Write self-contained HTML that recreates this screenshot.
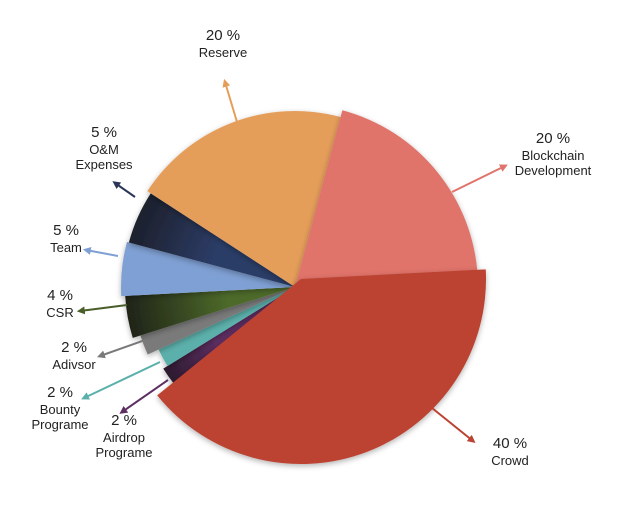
<!DOCTYPE html>
<html><head><meta charset="utf-8"><style>
html,body{margin:0;padding:0;background:#fff;width:641px;height:507px;overflow:hidden}
svg text{font-family:"Liberation Sans",sans-serif;fill:#222;text-anchor:middle}
</style></head><body>
<svg id="chart" width="641" height="507" viewBox="0 0 641 507" xmlns="http://www.w3.org/2000/svg">
<defs>
<filter id="sh" x="-20%" y="-20%" width="140%" height="140%"><feDropShadow dx="0" dy="2" stdDeviation="3" flood-color="#000" flood-opacity="0.3"/></filter>
<marker id="ah" viewBox="0 0 10 10" refX="6" refY="5" markerWidth="4" markerHeight="4" orient="auto-start-reverse"><path d="M0,0 L10,5 L0,10 z" fill="context-stroke"/></marker>
<radialGradient id="gOM" cx="295" cy="287" r="175" gradientUnits="userSpaceOnUse"><stop offset="0.5" stop-color="#2c3c66"/><stop offset="1" stop-color="#1c1f2a"/></radialGradient>
<radialGradient id="gCSR" cx="295" cy="287" r="172" gradientUnits="userSpaceOnUse"><stop offset="0.4" stop-color="#4d6a2a"/><stop offset="1" stop-color="#1e2218"/></radialGradient>
<radialGradient id="gAir" cx="295" cy="287" r="158" gradientUnits="userSpaceOnUse"><stop offset="0.6" stop-color="#5e2e63"/><stop offset="1" stop-color="#2a1a2c"/></radialGradient>
</defs>
<g id="slices"></g><g id="labels"></g>
</svg>
<script>
const labels = ["Crowd","Airdrop Programe","Bounty Programe","Adivsor","CSR","Team","O&M Expenses","Reserve","Blockchain Development"];
const values = [40,2,2,2,4,5,5,20,20];
const radii = [185,155,150,162,170,174,172,176,183];
const colors = ["#bc4231","#5e2e63","#5bb0ab","#7a7a7a","#4a5e2a","#7fa0d4","#2a3658","#e59e5a","#e0736b"];
const fills = ["#bc4231","url(#gAir)","#5bb0ab","#7a7a7a","url(#gCSR)","#7fa0d4","url(#gOM)","#e59e5a","#e0736b"];
const shifts = [[6,-8],[0,0],[0,0],[0,0],[0,0],[0,0],[0,0],[0,0],[0,0]];
const cx=295, cy=287, startAngle=-3;
const labelLines = [["40 %","Crowd"],["2 %","Airdrop","Programe"],["2 %","Bounty","Programe"],["2 %","Adivsor"],["4 %","CSR"],["5 %","Team"],["5 %","O&M","Expenses"],["20 %","Reserve"],["20 %","Blockchain","Development"]];
const labelPos = [[510,448],[124,425],[60,397],[74,352],[60,300],[66,235],[104,137],[223,40],[553,143]];
const arrowFrom = [[432,408],[168,380],[160,362],[145,340],[127,305],[118,256],[135,197],[237,122],[452,192]];
const arrowTo = [[473,441],[122,412],[84,398],[100,356],[80,311],[86,250],[115,183],[225,82],[505,166]];
const ns="http://www.w3.org/2000/svg";
const total=values.reduce((a,b)=>a+b,0);
const gS=document.getElementById('slices'), gL=document.getElementById('labels');
function pt(r,a){const t=a*Math.PI/180;return [cx+r*Math.cos(t),cy+r*Math.sin(t)];}
let a0=startAngle;
const paths=[];
values.forEach((v,i)=>{
  const sweep=v/total*360, a1=a0+sweep, r=radii[i];
  const p0=pt(r,a0), p1=pt(r,a1);
  const p=document.createElementNS(ns,'path');
  p.setAttribute('d',`M${cx},${cy} L${p0[0]},${p0[1]} A${r},${r} 0 ${sweep>180?1:0} 1 ${p1[0]},${p1[1]} Z`);
  p.setAttribute('fill',fills[i]);
  p.setAttribute('filter','url(#sh)');
  p.setAttribute('transform',`translate(${shifts[i][0]},${shifts[i][1]})`);
  
  
  paths.push(p);
  a0=a1;
  const ln=document.createElementNS(ns,'line');
  ln.setAttribute('x1',arrowFrom[i][0]);ln.setAttribute('y1',arrowFrom[i][1]);
  ln.setAttribute('x2',arrowTo[i][0]);ln.setAttribute('y2',arrowTo[i][1]);
  ln.setAttribute('stroke',colors[i]);ln.setAttribute('stroke-width','2');
  ln.setAttribute('marker-end','url(#ah)');
  
  
  gL.appendChild(ln);
  const t=document.createElementNS(ns,'text');
  
  
  labelLines[i].forEach((s,k)=>{
    const ts=document.createElementNS(ns,'tspan');
    ts.setAttribute('x',labelPos[i][0]);
    ts.setAttribute('y',labelPos[i][1]+(k===0?0:2+k*15));
    ts.setAttribute('font-size',k===0?'15':'13');
    ts.textContent=s;t.appendChild(ts);
  });
  gL.appendChild(t);
});
// draw crowd last so it sits on top
for(let i=1;i<paths.length;i++) gS.appendChild(paths[i]);
gS.appendChild(paths[0]);
</script>
</body></html>
